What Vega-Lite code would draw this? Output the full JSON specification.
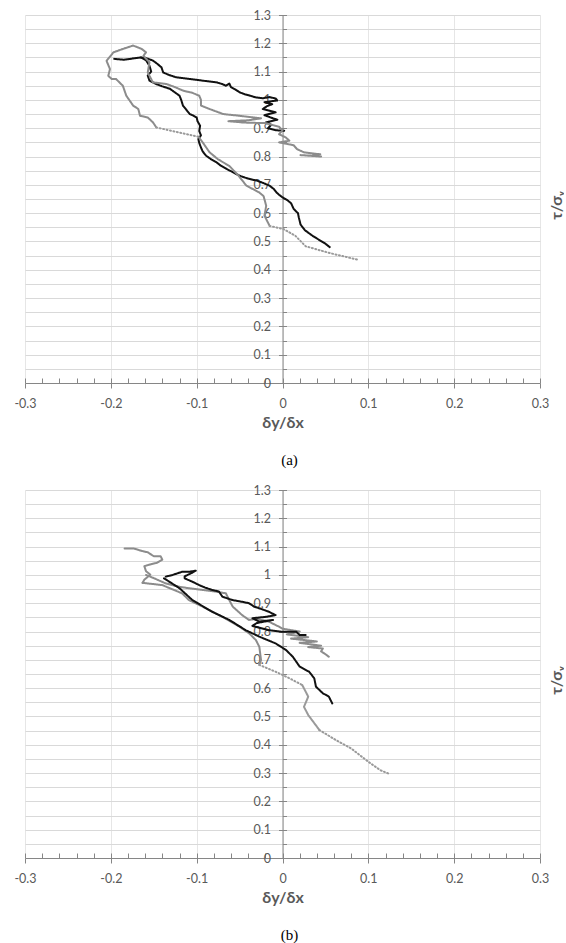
{
  "$schema": "https://vega.github.io/schema/vega-lite/v6.json",
  "background": "white",
  "padding": {"left": 13, "top": 9, "right": 0, "bottom": 0},
  "config": {
    "view": {"stroke": null},
    "font": "Lato",
    "axis": {
      "domainColor": "#868686",
      "tickColor": "#868686",
      "labelColor": "#595959",
      "labelFont": "Lato",
      "labelFontSize": 12.5,
      "titleColor": "#595959",
      "titleFont": "Lato",
      "titleFontSize": 16,
      "titleFontWeight": "bold"
    }
  },
  "data": {"values": [
    {"p":"a","s":"a1","k":"B","x":0.055,"y":0.48},{"p":"a","s":"a1","k":"B","x":0.05,"y":0.492},{"p":"a","s":"a1","k":"B","x":0.043,"y":0.505},{"p":"a","s":"a1","k":"B","x":0.035,"y":0.52},{"p":"a","s":"a1","k":"B","x":0.026,"y":0.54},{"p":"a","s":"a1","k":"B","x":0.021,"y":0.56},{"p":"a","s":"a1","k":"B","x":0.019,"y":0.585},{"p":"a","s":"a1","k":"B","x":0.018,"y":0.6},{"p":"a","s":"a1","k":"B","x":0.013,"y":0.615},{"p":"a","s":"a1","k":"B","x":0.01,"y":0.635},{"p":"a","s":"a1","k":"B","x":0.006,"y":0.645},{"p":"a","s":"a1","k":"B","x":0.002,"y":0.652},{"p":"a","s":"a1","k":"B","x":-0.001,"y":0.658},{"p":"a","s":"a1","k":"B","x":-0.004,"y":0.665},{"p":"a","s":"a1","k":"B","x":-0.007,"y":0.673},{"p":"a","s":"a1","k":"B","x":-0.01,"y":0.685},{"p":"a","s":"a1","k":"B","x":-0.015,"y":0.697},{"p":"a","s":"a1","k":"B","x":-0.022,"y":0.706},{"p":"a","s":"a1","k":"B","x":-0.03,"y":0.715},{"p":"a","s":"a1","k":"B","x":-0.04,"y":0.722},{"p":"a","s":"a1","k":"B","x":-0.05,"y":0.732},{"p":"a","s":"a1","k":"B","x":-0.058,"y":0.745},{"p":"a","s":"a1","k":"B","x":-0.065,"y":0.756},{"p":"a","s":"a1","k":"B","x":-0.072,"y":0.768},{"p":"a","s":"a1","k":"B","x":-0.077,"y":0.78},{"p":"a","s":"a1","k":"B","x":-0.083,"y":0.79},{"p":"a","s":"a1","k":"B","x":-0.089,"y":0.803},{"p":"a","s":"a1","k":"B","x":-0.093,"y":0.818},{"p":"a","s":"a1","k":"B","x":-0.095,"y":0.832},{"p":"a","s":"a1","k":"B","x":-0.097,"y":0.848},{"p":"a","s":"a1","k":"B","x":-0.098,"y":0.862},{"p":"a","s":"a1","k":"B","x":-0.095,"y":0.875},{"p":"a","s":"a1","k":"B","x":-0.097,"y":0.89},{"p":"a","s":"a1","k":"B","x":-0.096,"y":0.909},{"p":"a","s":"a1","k":"B","x":-0.099,"y":0.925},{"p":"a","s":"a1","k":"B","x":-0.1,"y":0.938},{"p":"a","s":"a1","k":"B","x":-0.104,"y":0.945},{"p":"a","s":"a1","k":"B","x":-0.108,"y":0.95},{"p":"a","s":"a1","k":"B","x":-0.112,"y":0.965},{"p":"a","s":"a1","k":"B","x":-0.116,"y":0.98},{"p":"a","s":"a1","k":"B","x":-0.118,"y":1.0},{"p":"a","s":"a1","k":"B","x":-0.12,"y":1.015},{"p":"a","s":"a1","k":"B","x":-0.126,"y":1.028},{"p":"a","s":"a1","k":"B","x":-0.131,"y":1.039},{"p":"a","s":"a1","k":"B","x":-0.14,"y":1.048},{"p":"a","s":"a1","k":"B","x":-0.147,"y":1.056},{"p":"a","s":"a1","k":"B","x":-0.155,"y":1.068},{"p":"a","s":"a1","k":"B","x":-0.157,"y":1.086},{"p":"a","s":"a1","k":"B","x":-0.153,"y":1.1},{"p":"a","s":"a1","k":"B","x":-0.155,"y":1.121},{"p":"a","s":"a1","k":"B","x":-0.159,"y":1.14},{"p":"a","s":"a1","k":"B","x":-0.165,"y":1.15},{"p":"a","s":"a1","k":"B","x":-0.175,"y":1.146},{"p":"a","s":"a1","k":"B","x":-0.185,"y":1.142},{"p":"a","s":"a1","k":"B","x":-0.196,"y":1.145},
    {"p":"a","s":"a2","k":"B","x":-0.165,"y":1.15},{"p":"a","s":"a2","k":"B","x":-0.159,"y":1.148},{"p":"a","s":"a2","k":"B","x":-0.151,"y":1.139},{"p":"a","s":"a2","k":"B","x":-0.146,"y":1.128},{"p":"a","s":"a2","k":"B","x":-0.141,"y":1.115},{"p":"a","s":"a2","k":"B","x":-0.139,"y":1.097},{"p":"a","s":"a2","k":"B","x":-0.132,"y":1.088},{"p":"a","s":"a2","k":"B","x":-0.124,"y":1.08},{"p":"a","s":"a2","k":"B","x":-0.116,"y":1.077},{"p":"a","s":"a2","k":"B","x":-0.108,"y":1.074},{"p":"a","s":"a2","k":"B","x":-0.1,"y":1.071},{"p":"a","s":"a2","k":"B","x":-0.093,"y":1.068},{"p":"a","s":"a2","k":"B","x":-0.085,"y":1.065},{"p":"a","s":"a2","k":"B","x":-0.077,"y":1.062},{"p":"a","s":"a2","k":"B","x":-0.07,"y":1.056},{"p":"a","s":"a2","k":"B","x":-0.066,"y":1.05},{"p":"a","s":"a2","k":"B","x":-0.062,"y":1.058},{"p":"a","s":"a2","k":"B","x":-0.06,"y":1.045},{"p":"a","s":"a2","k":"B","x":-0.055,"y":1.037},{"p":"a","s":"a2","k":"B","x":-0.05,"y":1.027},{"p":"a","s":"a2","k":"B","x":-0.044,"y":1.02},{"p":"a","s":"a2","k":"B","x":-0.038,"y":1.015},{"p":"a","s":"a2","k":"B","x":-0.031,"y":1.009},{"p":"a","s":"a2","k":"B","x":-0.023,"y":1.006},{"p":"a","s":"a2","k":"B","x":-0.015,"y":1.01},{"p":"a","s":"a2","k":"B","x":-0.008,"y":1.005},{"p":"a","s":"a2","k":"B","x":-0.006,"y":0.998},{"p":"a","s":"a2","k":"B","x":-0.021,"y":0.992},{"p":"a","s":"a2","k":"B","x":-0.012,"y":0.985},{"p":"a","s":"a2","k":"B","x":-0.018,"y":0.978},{"p":"a","s":"a2","k":"B","x":-0.023,"y":0.968},{"p":"a","s":"a2","k":"B","x":-0.013,"y":0.96},{"p":"a","s":"a2","k":"B","x":-0.008,"y":0.956},{"p":"a","s":"a2","k":"B","x":-0.021,"y":0.946},{"p":"a","s":"a2","k":"B","x":-0.011,"y":0.935},{"p":"a","s":"a2","k":"B","x":-0.006,"y":0.93},{"p":"a","s":"a2","k":"B","x":-0.019,"y":0.921},{"p":"a","s":"a2","k":"B","x":-0.013,"y":0.912},{"p":"a","s":"a2","k":"B","x":-0.017,"y":0.9},{"p":"a","s":"a2","k":"B","x":-0.008,"y":0.893},{"p":"a","s":"a2","k":"B","x":0.002,"y":0.891},
    {"p":"a","s":"a3","k":"G","x":-0.151,"y":1.062},{"p":"a","s":"a3","k":"G","x":-0.157,"y":1.097},{"p":"a","s":"a3","k":"G","x":-0.155,"y":1.133},{"p":"a","s":"a3","k":"G","x":-0.162,"y":1.156},{"p":"a","s":"a3","k":"G","x":-0.159,"y":1.168},{"p":"a","s":"a3","k":"G","x":-0.164,"y":1.18},{"p":"a","s":"a3","k":"G","x":-0.174,"y":1.192},{"p":"a","s":"a3","k":"G","x":-0.186,"y":1.18},{"p":"a","s":"a3","k":"G","x":-0.197,"y":1.168},{"p":"a","s":"a3","k":"G","x":-0.205,"y":1.138},{"p":"a","s":"a3","k":"G","x":-0.201,"y":1.109},{"p":"a","s":"a3","k":"G","x":-0.203,"y":1.085},{"p":"a","s":"a3","k":"G","x":-0.199,"y":1.074},{"p":"a","s":"a3","k":"G","x":-0.194,"y":1.074},{"p":"a","s":"a3","k":"G","x":-0.186,"y":1.05},{"p":"a","s":"a3","k":"G","x":-0.182,"y":1.015},{"p":"a","s":"a3","k":"G","x":-0.174,"y":0.98},{"p":"a","s":"a3","k":"G","x":-0.168,"y":0.968},{"p":"a","s":"a3","k":"G","x":-0.166,"y":0.944},{"p":"a","s":"a3","k":"G","x":-0.157,"y":0.938},{"p":"a","s":"a3","k":"G","x":-0.151,"y":0.921},{"p":"a","s":"a3","k":"G","x":-0.147,"y":0.903},
    {"p":"a","s":"a4","k":"Gd","x":-0.147,"y":0.903},{"p":"a","s":"a4","k":"Gd","x":-0.125,"y":0.888},{"p":"a","s":"a4","k":"Gd","x":-0.104,"y":0.874},{"p":"a","s":"a4","k":"Gd","x":-0.098,"y":0.87},
    {"p":"a","s":"a5","k":"G","x":-0.098,"y":0.87},{"p":"a","s":"a5","k":"G","x":-0.093,"y":0.85},{"p":"a","s":"a5","k":"G","x":-0.085,"y":0.815},{"p":"a","s":"a5","k":"G","x":-0.075,"y":0.79},{"p":"a","s":"a5","k":"G","x":-0.062,"y":0.767},{"p":"a","s":"a5","k":"G","x":-0.052,"y":0.735},{"p":"a","s":"a5","k":"G","x":-0.042,"y":0.697},{"p":"a","s":"a5","k":"G","x":-0.027,"y":0.673},{"p":"a","s":"a5","k":"G","x":-0.022,"y":0.66},{"p":"a","s":"a5","k":"G","x":-0.019,"y":0.626},{"p":"a","s":"a5","k":"G","x":-0.021,"y":0.591},{"p":"a","s":"a5","k":"G","x":-0.015,"y":0.555},
    {"p":"a","s":"a6","k":"Gd","x":-0.015,"y":0.555},{"p":"a","s":"a6","k":"Gd","x":0.001,"y":0.544},{"p":"a","s":"a6","k":"Gd","x":0.015,"y":0.52},{"p":"a","s":"a6","k":"Gd","x":0.027,"y":0.483},{"p":"a","s":"a6","k":"Gd","x":0.055,"y":0.459},{"p":"a","s":"a6","k":"Gd","x":0.087,"y":0.436},
    {"p":"a","s":"a7","k":"G","x":-0.151,"y":1.062},{"p":"a","s":"a7","k":"G","x":-0.135,"y":1.056},{"p":"a","s":"a7","k":"G","x":-0.125,"y":1.045},{"p":"a","s":"a7","k":"G","x":-0.116,"y":1.033},{"p":"a","s":"a7","k":"G","x":-0.105,"y":1.025},{"p":"a","s":"a7","k":"G","x":-0.097,"y":1.015},{"p":"a","s":"a7","k":"G","x":-0.095,"y":1.0},{"p":"a","s":"a7","k":"G","x":-0.095,"y":0.98},{"p":"a","s":"a7","k":"G","x":-0.085,"y":0.968},{"p":"a","s":"a7","k":"G","x":-0.069,"y":0.95},{"p":"a","s":"a7","k":"G","x":-0.05,"y":0.944},{"p":"a","s":"a7","k":"G","x":-0.034,"y":0.938},{"p":"a","s":"a7","k":"G","x":-0.025,"y":0.935},{"p":"a","s":"a7","k":"G","x":-0.04,"y":0.928},{"p":"a","s":"a7","k":"G","x":-0.063,"y":0.925},{"p":"a","s":"a7","k":"G","x":-0.045,"y":0.92},{"p":"a","s":"a7","k":"G","x":-0.02,"y":0.918},{"p":"a","s":"a7","k":"G","x":-0.004,"y":0.905},{"p":"a","s":"a7","k":"G","x":0.0,"y":0.893},{"p":"a","s":"a7","k":"G","x":-0.004,"y":0.879},{"p":"a","s":"a7","k":"G","x":0.004,"y":0.867},{"p":"a","s":"a7","k":"G","x":0.008,"y":0.856},{"p":"a","s":"a7","k":"G","x":-0.004,"y":0.85},{"p":"a","s":"a7","k":"G","x":0.013,"y":0.84},{"p":"a","s":"a7","k":"G","x":0.017,"y":0.826},{"p":"a","s":"a7","k":"G","x":0.025,"y":0.815},{"p":"a","s":"a7","k":"G","x":0.038,"y":0.81},{"p":"a","s":"a7","k":"G","x":0.044,"y":0.808},{"p":"a","s":"a7","k":"G","x":0.034,"y":0.803},{"p":"a","s":"a7","k":"G","x":0.021,"y":0.805},{"p":"a","s":"a7","k":"G","x":0.045,"y":0.8},
    {"p":"b","s":"b1","k":"G","x":-0.184,"y":1.093},{"p":"b","s":"b1","k":"G","x":-0.173,"y":1.093},{"p":"b","s":"b1","k":"G","x":-0.163,"y":1.084},{"p":"b","s":"b1","k":"G","x":-0.157,"y":1.08},{"p":"b","s":"b1","k":"G","x":-0.15,"y":1.066},{"p":"b","s":"b1","k":"G","x":-0.142,"y":1.066},{"p":"b","s":"b1","k":"G","x":-0.14,"y":1.054},{"p":"b","s":"b1","k":"G","x":-0.146,"y":1.043},{"p":"b","s":"b1","k":"G","x":-0.154,"y":1.037},{"p":"b","s":"b1","k":"G","x":-0.161,"y":1.031},{"p":"b","s":"b1","k":"G","x":-0.159,"y":1.013},{"p":"b","s":"b1","k":"G","x":-0.154,"y":1.001},{"p":"b","s":"b1","k":"G","x":-0.161,"y":0.983},{"p":"b","s":"b1","k":"G","x":-0.163,"y":0.972},
    {"p":"b","s":"b2","k":"G","x":-0.159,"y":1.0},{"p":"b","s":"b2","k":"G","x":-0.151,"y":0.99},{"p":"b","s":"b2","k":"G","x":-0.136,"y":0.97},{"p":"b","s":"b2","k":"G","x":-0.12,"y":0.958},{"p":"b","s":"b2","k":"G","x":-0.109,"y":0.953},{"p":"b","s":"b2","k":"G","x":-0.093,"y":0.947},{"p":"b","s":"b2","k":"G","x":-0.078,"y":0.941},{"p":"b","s":"b2","k":"G","x":-0.066,"y":0.935},{"p":"b","s":"b2","k":"G","x":-0.062,"y":0.911},{"p":"b","s":"b2","k":"G","x":-0.058,"y":0.888},{"p":"b","s":"b2","k":"G","x":-0.047,"y":0.858},{"p":"b","s":"b2","k":"G","x":-0.039,"y":0.841},{"p":"b","s":"b2","k":"G","x":-0.03,"y":0.845},{"p":"b","s":"b2","k":"G","x":-0.016,"y":0.835},{"p":"b","s":"b2","k":"G","x":-0.004,"y":0.817},{"p":"b","s":"b2","k":"G","x":0.0,"y":0.81},{"p":"b","s":"b2","k":"G","x":0.02,"y":0.8},{"p":"b","s":"b2","k":"G","x":0.005,"y":0.79},{"p":"b","s":"b2","k":"G","x":0.03,"y":0.78},{"p":"b","s":"b2","k":"G","x":0.01,"y":0.775},{"p":"b","s":"b2","k":"G","x":0.04,"y":0.765},{"p":"b","s":"b2","k":"G","x":0.02,"y":0.76},{"p":"b","s":"b2","k":"G","x":0.045,"y":0.75},{"p":"b","s":"b2","k":"G","x":0.03,"y":0.745},{"p":"b","s":"b2","k":"G","x":0.047,"y":0.74},{"p":"b","s":"b2","k":"G","x":0.045,"y":0.73},{"p":"b","s":"b2","k":"G","x":0.05,"y":0.72},{"p":"b","s":"b2","k":"G","x":0.054,"y":0.711},
    {"p":"b","s":"b3","k":"G","x":-0.163,"y":0.972},{"p":"b","s":"b3","k":"G","x":-0.14,"y":0.964},{"p":"b","s":"b3","k":"G","x":-0.117,"y":0.935},{"p":"b","s":"b3","k":"G","x":-0.109,"y":0.911},{"p":"b","s":"b3","k":"G","x":-0.093,"y":0.888},{"p":"b","s":"b3","k":"G","x":-0.07,"y":0.852},{"p":"b","s":"b3","k":"G","x":-0.05,"y":0.817},{"p":"b","s":"b3","k":"G","x":-0.039,"y":0.794},{"p":"b","s":"b3","k":"G","x":-0.031,"y":0.77},{"p":"b","s":"b3","k":"G","x":-0.027,"y":0.746},{"p":"b","s":"b3","k":"G","x":-0.025,"y":0.699},{"p":"b","s":"b3","k":"G","x":-0.027,"y":0.682},
    {"p":"b","s":"b4","k":"Gd","x":-0.027,"y":0.682},{"p":"b","s":"b4","k":"Gd","x":-0.008,"y":0.658},{"p":"b","s":"b4","k":"Gd","x":0.008,"y":0.635},{"p":"b","s":"b4","k":"Gd","x":0.023,"y":0.611},
    {"p":"b","s":"b7","k":"Gt","x":0.023,"y":0.611},{"p":"b","s":"b7","k":"Gt","x":0.03,"y":0.57},{"p":"b","s":"b7","k":"Gt","x":0.025,"y":0.534},{"p":"b","s":"b7","k":"Gt","x":0.03,"y":0.505},{"p":"b","s":"b7","k":"Gt","x":0.043,"y":0.452},
    {"p":"b","s":"b8","k":"Gd","x":0.043,"y":0.452},{"p":"b","s":"b8","k":"Gd","x":0.062,"y":0.417},{"p":"b","s":"b8","k":"Gd","x":0.08,"y":0.387},{"p":"b","s":"b8","k":"Gd","x":0.1,"y":0.34},{"p":"b","s":"b8","k":"Gd","x":0.114,"y":0.31},{"p":"b","s":"b8","k":"Gd","x":0.123,"y":0.299},
    {"p":"b","s":"b5","k":"B","x":-0.136,"y":0.994},{"p":"b","s":"b5","k":"B","x":-0.128,"y":1.0},{"p":"b","s":"b5","k":"B","x":-0.122,"y":1.006},{"p":"b","s":"b5","k":"B","x":-0.117,"y":1.011},{"p":"b","s":"b5","k":"B","x":-0.109,"y":1.011},{"p":"b","s":"b5","k":"B","x":-0.101,"y":1.015},{"p":"b","s":"b5","k":"B","x":-0.105,"y":1.008},{"p":"b","s":"b5","k":"B","x":-0.114,"y":0.995},{"p":"b","s":"b5","k":"B","x":-0.114,"y":0.988},{"p":"b","s":"b5","k":"B","x":-0.105,"y":0.976},{"p":"b","s":"b5","k":"B","x":-0.097,"y":0.964},{"p":"b","s":"b5","k":"B","x":-0.09,"y":0.955},{"p":"b","s":"b5","k":"B","x":-0.082,"y":0.947},{"p":"b","s":"b5","k":"B","x":-0.074,"y":0.941},{"p":"b","s":"b5","k":"B","x":-0.07,"y":0.923},{"p":"b","s":"b5","k":"B","x":-0.058,"y":0.911},{"p":"b","s":"b5","k":"B","x":-0.047,"y":0.905},{"p":"b","s":"b5","k":"B","x":-0.039,"y":0.9},{"p":"b","s":"b5","k":"B","x":-0.033,"y":0.888},{"p":"b","s":"b5","k":"B","x":-0.025,"y":0.88},{"p":"b","s":"b5","k":"B","x":-0.016,"y":0.87},{"p":"b","s":"b5","k":"B","x":-0.008,"y":0.858},{"p":"b","s":"b5","k":"B","x":-0.019,"y":0.852},{"p":"b","s":"b5","k":"B","x":-0.035,"y":0.847},{"p":"b","s":"b5","k":"B","x":-0.027,"y":0.835},{"p":"b","s":"b5","k":"B","x":-0.011,"y":0.841},{"p":"b","s":"b5","k":"B","x":-0.03,"y":0.83},{"p":"b","s":"b5","k":"B","x":-0.035,"y":0.82},{"p":"b","s":"b5","k":"B","x":-0.016,"y":0.805},{"p":"b","s":"b5","k":"B","x":0.0,"y":0.799},{"p":"b","s":"b5","k":"B","x":0.016,"y":0.799},{"p":"b","s":"b5","k":"B","x":0.02,"y":0.788},{"p":"b","s":"b5","k":"B","x":0.027,"y":0.788},
    {"p":"b","s":"b6","k":"B","x":-0.138,"y":0.988},{"p":"b","s":"b6","k":"B","x":-0.12,"y":0.953},{"p":"b","s":"b6","k":"B","x":-0.105,"y":0.911},{"p":"b","s":"b6","k":"B","x":-0.082,"y":0.87},{"p":"b","s":"b6","k":"B","x":-0.062,"y":0.841},{"p":"b","s":"b6","k":"B","x":-0.043,"y":0.805},{"p":"b","s":"b6","k":"B","x":-0.027,"y":0.782},{"p":"b","s":"b6","k":"B","x":-0.008,"y":0.758},{"p":"b","s":"b6","k":"B","x":0.004,"y":0.735},{"p":"b","s":"b6","k":"B","x":0.012,"y":0.711},{"p":"b","s":"b6","k":"B","x":0.02,"y":0.676},{"p":"b","s":"b6","k":"B","x":0.031,"y":0.658},{"p":"b","s":"b6","k":"B","x":0.037,"y":0.635},{"p":"b","s":"b6","k":"B","x":0.039,"y":0.605},{"p":"b","s":"b6","k":"B","x":0.047,"y":0.582},{"p":"b","s":"b6","k":"B","x":0.054,"y":0.57},{"p":"b","s":"b6","k":"B","x":0.058,"y":0.546}
  ]},
  "spacing": 16,
  "vconcat": [
    {
      "width": 515, "height": 368,
      "title": {"text": "(a)", "orient": "bottom", "font": "Liberation Serif", "fontSize": 15, "fontWeight": "normal", "color": "#000000", "offset": 22, "dx": 7},
      "transform": [{"filter": "datum.p === 'a'"}],
      "layer": [
        {
          "mark": {"type": "point", "opacity": 0},
          "encoding": {
            "x": {"field": "x", "type": "quantitative", "scale": {"domain": [-0.3, 0.3], "nice": false, "zero": false},
              "axis": {"orient": "top", "offset": -368, "values": [-0.3,-0.28,-0.26,-0.24,-0.22,-0.2,-0.18,-0.16,-0.14,-0.12,-0.1,-0.08,-0.06,-0.04,-0.02,0,0.02,0.04,0.06,0.08,0.1,0.12,0.14,0.16,0.18,0.2,0.22,0.24,0.26,0.28,0.3], "labels": false, "domain": false, "grid": false, "tickSize": 5, "title": null}},
            "y": {"field": "y", "type": "quantitative", "scale": {"domain": [0, 1.3], "nice": false, "zero": false},
              "axis": {"orient": "right", "offset": -257.5, "values": [0.05,0.1,0.15,0.2,0.25,0.3,0.35,0.4,0.45,0.5,0.55,0.6,0.65,0.7,0.75,0.8,0.85,0.9,0.95,1,1.05,1.1,1.15,1.2,1.25,1.3], "labels": false, "domain": false, "grid": true, "gridColor": "#d9d9d9", "gridWidth": 1, "tickSize": 4, "title": null}}
          }
        },
        {
          "mark": {"type": "line", "strokeJoin": "round", "strokeCap": "round"},
          "encoding": {
            "x": {"field": "x", "type": "quantitative", "scale": {"domain": [-0.3, 0.3], "nice": false, "zero": false},
              "axis": {"orient": "bottom", "values": [-0.3,-0.2,-0.1,0,0.1,0.2,0.3], "labelFlush": false, "labelExpr": "replace(format(datum.value, '.1~f'), '−', '-')", "grid": true, "gridColor": "#e6e6e6", "tickSize": 5, "labelPadding": 9, "title": "δy/δx", "titlePadding": 5}},
            "y": {"field": "y", "type": "quantitative", "scale": {"domain": [0, 1.3], "nice": false, "zero": false},
              "axis": {"orient": "left", "offset": -257.5, "values": [0,0.1,0.2,0.3,0.4,0.5,0.6,0.7,0.8,0.9,1,1.1,1.2,1.3], "labelExpr": "format(datum.value, '.1~f')", "grid": false, "tickSize": 4, "labelPadding": 8, "title": "τ/σᵥ", "titleX": 273.5, "titleY": 190, "titleAngle": 270, "titleBaseline": "middle", "titleAlign": "center"}},
            "detail": {"field": "s"},
            "color": {"field": "k", "type": "nominal", "scale": {"domain": ["B", "G", "Gd", "Gt"], "range": ["#111111", "#8c8c8c", "#9a9a9a", "#9a9a9a"]}, "legend": null},
            "strokeWidth": {"field": "k", "type": "nominal", "scale": {"domain": ["B", "G", "Gd", "Gt"], "range": [2, 2, 1.5, 1.5]}, "legend": null},
            "strokeDash": {"field": "k", "type": "nominal", "scale": {"domain": ["B", "G", "Gd", "Gt"], "range": [[1, 0], [1, 0], [1, 2.5], [1, 0]]}, "legend": null},
            "order": {"value": null}
          }
        }
      ],
      "resolve": {"axis": {"x": "independent", "y": "independent"}}
    },
    {
      "width": 515, "height": 368,
      "title": {"text": "(b)", "orient": "bottom", "font": "Liberation Serif", "fontSize": 15, "fontWeight": "normal", "color": "#000000", "offset": 22, "dx": 7},
      "transform": [{"filter": "datum.p === 'b'"}],
      "layer": [
        {
          "mark": {"type": "point", "opacity": 0},
          "encoding": {
            "x": {"field": "x", "type": "quantitative", "scale": {"domain": [-0.3, 0.3], "nice": false, "zero": false},
              "axis": {"orient": "top", "offset": -368, "values": [-0.3,-0.28,-0.26,-0.24,-0.22,-0.2,-0.18,-0.16,-0.14,-0.12,-0.1,-0.08,-0.06,-0.04,-0.02,0,0.02,0.04,0.06,0.08,0.1,0.12,0.14,0.16,0.18,0.2,0.22,0.24,0.26,0.28,0.3], "labels": false, "domain": false, "grid": false, "tickSize": 5, "title": null}},
            "y": {"field": "y", "type": "quantitative", "scale": {"domain": [0, 1.3], "nice": false, "zero": false},
              "axis": {"orient": "right", "offset": -257.5, "values": [0.05,0.1,0.15,0.2,0.25,0.3,0.35,0.4,0.45,0.5,0.55,0.6,0.65,0.7,0.75,0.8,0.85,0.9,0.95,1,1.05,1.1,1.15,1.2,1.25,1.3], "labels": false, "domain": false, "grid": true, "gridColor": "#d9d9d9", "gridWidth": 1, "tickSize": 4, "title": null}}
          }
        },
        {
          "mark": {"type": "line", "strokeJoin": "round", "strokeCap": "round"},
          "encoding": {
            "x": {"field": "x", "type": "quantitative", "scale": {"domain": [-0.3, 0.3], "nice": false, "zero": false},
              "axis": {"orient": "bottom", "values": [-0.3,-0.2,-0.1,0,0.1,0.2,0.3], "labelFlush": false, "labelExpr": "replace(format(datum.value, '.1~f'), '−', '-')", "grid": true, "gridColor": "#e6e6e6", "tickSize": 5, "labelPadding": 9, "title": "δy/δx", "titlePadding": 5}},
            "y": {"field": "y", "type": "quantitative", "scale": {"domain": [0, 1.3], "nice": false, "zero": false},
              "axis": {"orient": "left", "offset": -257.5, "values": [0,0.1,0.2,0.3,0.4,0.5,0.6,0.7,0.8,0.9,1,1.1,1.2,1.3], "labelExpr": "format(datum.value, '.1~f')", "grid": false, "tickSize": 4, "labelPadding": 8, "title": "τ/σᵥ", "titleX": 273.5, "titleY": 190, "titleAngle": 270, "titleBaseline": "middle", "titleAlign": "center"}},
            "detail": {"field": "s"},
            "color": {"field": "k", "type": "nominal", "scale": {"domain": ["B", "G", "Gd", "Gt"], "range": ["#111111", "#8c8c8c", "#9a9a9a", "#9a9a9a"]}, "legend": null},
            "strokeWidth": {"field": "k", "type": "nominal", "scale": {"domain": ["B", "G", "Gd", "Gt"], "range": [2, 2, 1.5, 1.5]}, "legend": null},
            "strokeDash": {"field": "k", "type": "nominal", "scale": {"domain": ["B", "G", "Gd", "Gt"], "range": [[1, 0], [1, 0], [1, 2.5], [1, 0]]}, "legend": null},
            "order": {"value": null}
          }
        }
      ],
      "resolve": {"axis": {"x": "independent", "y": "independent"}}
    }
  ]
}
